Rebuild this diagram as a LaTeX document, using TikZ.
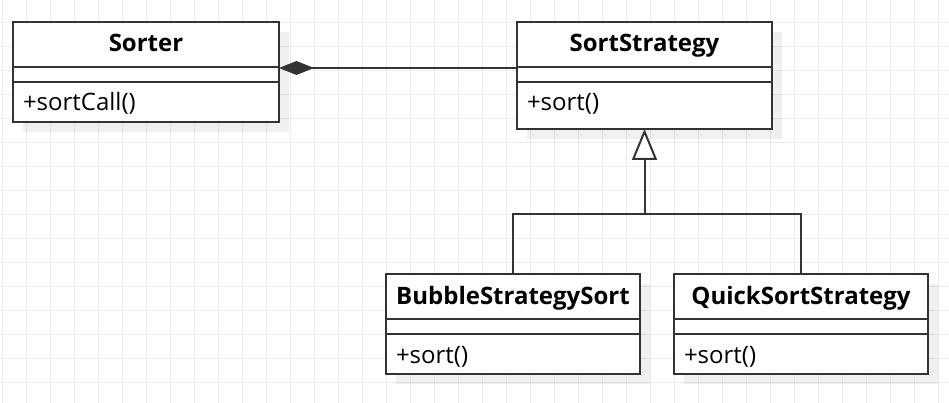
\documentclass[tikz,border=0pt]{standalone}
\usepackage{fontspec}
\setmainfont{Open Sans}
\usetikzlibrary{arrows.meta,shadows}
\definecolor{umlline}{HTML}{333333}
\definecolor{gridgray}{HTML}{EBEBEB}
\begin{document}
\begin{tikzpicture}[
        x=1pt, y=-1pt,
        line width=2pt,
        color=umlline,
        font=\fontsize{24}{28}\selectfont
    ]
    \tikzset{
        classbox/.style = {rectangle, draw=umlline, fill=white, anchor=north west, inner sep=0pt, outer sep=0pt, minimum height=100pt,
            drop shadow={shadow xshift=10pt, shadow yshift=-10pt, fill=black, opacity=0.06}},
        classname/.style = {anchor=base, inner sep=0pt, text=black, font=\fontsize{24}{28}\selectfont\bfseries},
        classop/.style = {anchor=base west, inner sep=0pt, text=black},
        gridline/.style = {draw=gridgray, line width=1pt},
    }
    \useasboundingbox (0,0) rectangle (949,403);
    % background grid
    \foreach \gx in {0,...,39} \draw[gridline] (2.4+24*\gx,0) -- (2.4+24*\gx,403);
    \foreach \gy in {0,...,15} \draw[gridline] (0,22.3+24*\gy) -- (949,22.3+24*\gy);
    % classes
    \node[classbox, minimum width=266pt] at (13,22) (sorter) {};
    \node[classbox, minimum width=255pt, minimum height=107pt] at (517,22) (strategy) {};
    \node[classbox, minimum width=254pt] at (386,274) (bubble) {};
    \node[classbox, minimum width=254pt] at (674,274) (quick) {};
    \foreach \cls in {sorter,strategy,bubble,quick} {
        \draw ([yshift=-45pt]\cls.north west) -- ([yshift=-45pt]\cls.north east);
        \draw ([yshift=-60pt]\cls.north west) -- ([yshift=-60pt]\cls.north east);
    }
    \node[classname] at ([yshift=-30pt]sorter.north) (sortername) {Sorter};
    \node[classname] at ([yshift=-30pt]strategy.north) (strategyname) {SortStrategy};
    \node[classname] at ([yshift=-30pt]bubble.north) (bubblename) {BubbleStrategySort};
    \node[classname] at ([yshift=-30pt]quick.north) (quickname) {QuickSortStrategy};
    \node[classop] at ([xshift=9pt,yshift=-89pt]sorter.north west) (sorterop) {+sortCall()};
    \node[classop] at ([xshift=9pt,yshift=-89pt]strategy.north west) (strategyop) {+sort()};
    \node[classop] at ([xshift=9pt,yshift=-89pt]bubble.north west) (bubbleop) {+sort()};
    \node[classop] at ([xshift=9pt,yshift=-89pt]quick.north west) (quickop) {+sort()};
    % composition
    \draw[-{Diamond[length=35pt,width=14pt]}] ([yshift=-46pt]strategy.north west) -- ([yshift=-46pt]sorter.north east);
    % generalization
    \coordinate (split) at ([yshift=-85pt]strategy.south);
    \draw (bubble.north) |- (split) -| (quick.north);
    \draw[-{Triangle[length=31pt,width=25pt,fill=white]}] (split) -- (strategy.south);
\end{tikzpicture}
\end{document}
